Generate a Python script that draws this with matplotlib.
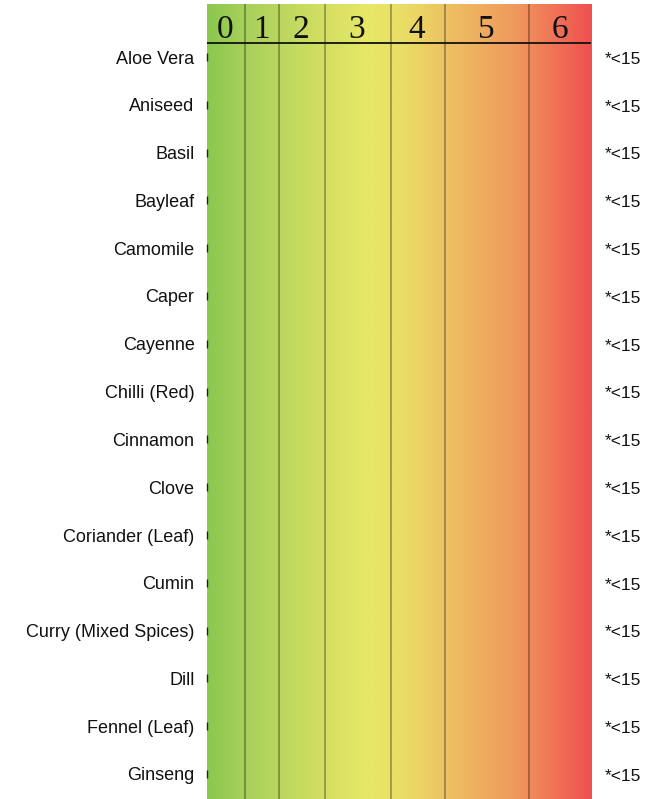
import numpy as np
import matplotlib.pyplot as plt
from matplotlib.colors import LinearSegmentedColormap
from matplotlib.transforms import blended_transform_factory

herbs = ['Aloe Vera', 'Aniseed', 'Basil', 'Bayleaf', 'Camomile', 'Caper', 'Cayenne',
         'Chilli (Red)', 'Cinnamon', 'Clove', 'Coriander (Leaf)', 'Cumin',
         'Curry (Mixed Spices)', 'Dill', 'Fennel (Leaf)', 'Ginseng']
values = [0] * len(herbs)
notes = ['*<15'] * len(herbs)
bands = ['0', '1', '2', '3', '4', '5', '6']
# band edges on the (non-linear) scale
band_edges = [0, 38, 72, 118, 184, 238, 322, 385]

fig = plt.figure(figsize=(6.46, 7.99), dpi=100)
W, H = 646, 799
ax = fig.add_axes([207 / W, 0, 385 / W, 1 - 4 / H])

row_step = 47.8
top = -53 / row_step
bottom = (H - 57) / row_step
ax.set_xlim(band_edges[0], band_edges[-1])
ax.set_ylim(bottom, top)

# background gradient green -> yellow -> red
cmap = LinearSegmentedColormap.from_list('grad', [
    (0.0, '#8cc84e'), (0.10, '#a8d05c'), (0.30, '#d3df62'), (0.42, '#e8e866'),
    (0.52, '#eadc66'), (0.62, '#edc262'), (0.80, '#ef9a5e'), (1.0, '#f05050')])
grad = np.linspace(0, 1, 400).reshape(1, -1)
ax.imshow(grad, cmap=cmap, aspect='auto', extent=(band_edges[0], band_edges[-1], bottom, top),
          interpolation='bilinear', zorder=0)

for e in band_edges[1:-1]:
    ax.axvline(e, color='#000000', alpha=0.38, lw=1.1, zorder=1)

header_line = -14 / row_step
ax.plot([0, band_edges[-1] - 2], [header_line, header_line], color='#111111', lw=1.3, zorder=2)
for i, b in enumerate(bands):
    cx = (band_edges[i] + band_edges[i + 1]) / 2
    ax.text(cx - 1, -27 / row_step, b, ha='center', va='center', fontsize=24,
            family='Liberation Serif', color='#111111', zorder=3)

y = np.arange(len(herbs))
ax.plot(values, y, marker='|', ms=6, mew=1, lw=0, color='#222222', clip_on=False, zorder=3)

ax.set_yticks(y)
ax.set_yticklabels(herbs, family='Liberation Sans', fontsize=13, color='#111111')
ax.tick_params(axis='y', length=0, pad=9)
ax.set_xticks([])
for s in ax.spines.values():
    s.set_visible(False)

tr = blended_transform_factory(ax.transAxes, ax.transData)
for yi, n in zip(y, notes):
    ax.text(1 + 13 / 385, yi + 0.05, n, transform=tr, ha='left', va='center',
            family='Liberation Sans', fontsize=12.5, color='#111111')

fig.savefig('out.png', dpi=100)
